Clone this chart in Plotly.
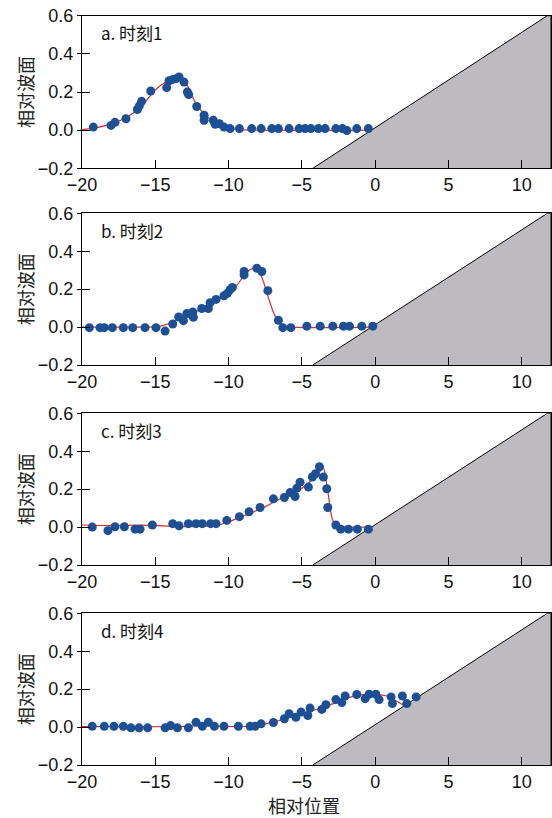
import plotly.graph_objects as go

# ---------------- data ----------------
panel_labels = ["a. 时刻1", "b. 时刻2", "c. 时刻3", "d. 时刻4"]
x_ticks = [-20, -15, -10, -5, 0, 5, 10]
y_ticks = [-0.2, 0.0, 0.2, 0.4, 0.6]
y_title = "相对波面"
x_title = "相对位置"

# beach slope (bed profile)
beach_x = [-4.25, 11.75, 12.0, 12.0]
beach_y = [-0.2, 0.6, 0.6, -0.2]

# panel 1 measured
x1 = [-19.23, -18.02, -17.75, -17.0, -16.22, -16.09, -15.93, -15.31, -14.22, -14.06,
      -13.81, -13.58, -13.38, -13.04, -12.81, -12.72, -12.17, -11.67, -11.67, -11.04,
      -10.92, -10.63, -10.31, -9.90, -9.26, -8.42, -7.78, -7.05, -6.60, -5.87,
      -5.19, -4.78, -4.39, -3.87, -3.41, -2.68, -2.23, -1.93, -1.25, -0.46]
y1 = [0.016, 0.025, 0.041, 0.060, 0.108, 0.127, 0.151, 0.205, 0.223, 0.259,
      0.266, 0.270, 0.279, 0.252, 0.200, 0.186, 0.124, 0.078, 0.052, 0.052,
      0.031, 0.034, 0.016, 0.008, 0.008, 0.008, 0.008, 0.008, 0.008, 0.008,
      0.008, 0.008, 0.008, 0.008, 0.008, 0.008, 0.008, -0.002, 0.008, 0.008]
# panel 1 model
x1c = [-20, -19, -18, -17, -16.5, -16, -15.5, -15, -14.5, -14, -13.7, -13.4, -13.1,
       -12.85, -12.6, -12.3, -12.0, -11.7, -11.4, -11.0, -10.6, -10.2, -9.7, -9.0, -0.3]
y1c = [0.003, 0.013, 0.033, 0.065, 0.09, 0.12, 0.165, 0.21, 0.242, 0.265, 0.278, 0.285,
       0.272, 0.24, 0.2, 0.15, 0.115, 0.088, 0.066, 0.045, 0.028, 0.015, 0.006, 0.001, 0.0]

# panel 2 measured
x2 = [-19.5, -18.77, -18.48, -17.93, -17.18, -16.54, -15.70, -14.95, -14.33, -13.81,
      -13.40, -13.08, -12.85, -12.44, -12.40, -11.83, -11.38, -11.26, -10.85, -10.31,
      -10.08, -9.90, -9.74, -8.94, -8.94, -8.07, -7.73, -7.32, -6.60, -6.30,
      -5.75, -4.66, -3.75, -2.89, -2.16, -1.75, -0.91, -0.16]
y2 = [-0.003, -0.003, -0.003, -0.003, -0.003, -0.003, -0.003, -0.003, -0.021, 0.016,
      0.053, 0.034, 0.071, 0.080, 0.052, 0.098, 0.098, 0.128, 0.146, 0.165,
      0.178, 0.197, 0.209, 0.293, 0.275, 0.310, 0.293, 0.192, 0.036, -0.003,
      -0.003, 0.005, 0.005, 0.005, 0.005, 0.005, 0.005, 0.005]
x2c = [-20, -18, -16, -15, -14.5, -14, -13.5, -13, -12.5, -12, -11.5, -11, -10.5, -10,
       -9.5, -9, -8.6, -8.3, -8.0, -7.8, -7.6, -7.4, -7.2, -7.0, -6.8, -6.6, -6.3, -6.0, 0]
y2c = [0.0, 0.0, 0.0, 0.002, 0.008, 0.02, 0.038, 0.055, 0.072, 0.09, 0.11, 0.13, 0.155,
       0.18, 0.215, 0.265, 0.3, 0.31, 0.3, 0.275, 0.235, 0.185, 0.135, 0.09, 0.055, 0.03,
       0.01, 0.002, 0.0]

# panel 3 measured
x3 = [-19.30, -18.23, -17.75, -17.11, -16.38, -16.04, -15.20, -13.81, -13.38, -12.74,
      -12.22, -11.79, -11.22, -10.85, -10.12, -9.26, -8.60, -7.85, -6.94, -6.19,
      -5.80, -5.46, -5.34, -5.12, -4.55, -4.28, -4.07, -3.80, -3.53, -3.30,
      -3.23, -2.68, -2.34, -1.82, -1.21, -0.46]
y3 = [0.0, -0.019, 0.002, 0.002, -0.011, -0.011, 0.011, 0.018, 0.007, 0.018,
      0.018, 0.018, 0.018, 0.018, 0.035, 0.055, 0.081, 0.103, 0.149, 0.156,
      0.182, 0.161, 0.205, 0.237, 0.211, 0.264, 0.281, 0.318, 0.264, 0.202,
      0.103, 0.011, -0.011, -0.011, -0.011, -0.011]
x3c = [-20, -18, -16, -14, -13, -12, -11, -10.5, -10, -9.5, -9, -8.5, -8, -7.5, -7,
       -6.5, -6, -5.5, -5, -4.5, -4.0, -3.7, -3.55, -3.3, -3.1, -2.95, -2.8, -2.6, -2.3, -0.4]
y3c = [0.011, 0.008, 0.01, 0.005, 0.002, 0.003, 0.008, 0.015, 0.028, 0.043, 0.058, 0.073,
       0.09, 0.108, 0.128, 0.148, 0.168, 0.186, 0.205, 0.235, 0.27, 0.3, 0.315, 0.225,
       0.12, 0.05, 0.02, 0.008, 0.002, 0.0]

# panel 4 measured
x4 = [-19.30, -18.48, -17.82, -17.18, -16.66, -16.11, -15.52, -14.33, -13.95, -13.49,
      -12.74, -12.22, -11.79, -11.38, -10.97, -10.31, -9.33, -8.53, -8.19, -7.78,
      -6.94, -6.19, -5.87, -5.41, -5.05, -4.59, -4.44, -3.64, -3.36, -2.68,
      -2.27, -2.05, -1.25, -0.68, -0.41, 0.05, 0.27, 1.09, 1.18, 1.86, 2.16, 2.80]
y4 = [0.004, 0.004, 0.004, 0.004, -0.004, -0.004, -0.004, -0.004, 0.008, -0.004,
      -0.004, 0.026, 0.004, 0.026, 0.004, 0.004, 0.004, 0.004, 0.004, 0.017,
      0.024, 0.044, 0.070, 0.052, 0.079, 0.061, 0.100, 0.093, 0.118, 0.145,
      0.129, 0.164, 0.172, 0.150, 0.173, 0.173, 0.145, 0.159, 0.124, 0.164, 0.124, 0.159]
x4c = [-20, -18, -16, -14, -13, -12, -11, -10, -9, -8.5, -8, -7.5, -7, -6.5, -6, -5.5,
       -5, -4.5, -4, -3.5, -3, -2.5, -2, -1.5, -1, -0.5, 0, 0.5, 1.0, 1.5, 2.0]
y4c = [0.003, 0.003, 0.002, 0.002, 0.004, 0.008, 0.006, 0.003, 0.003, 0.005, 0.01, 0.017,
       0.026, 0.036, 0.047, 0.058, 0.07, 0.082, 0.094, 0.107, 0.12, 0.135, 0.15, 0.162,
       0.17, 0.172, 0.17, 0.168, 0.16, 0.135, 0.112]

meas = [(x1, y1), (x2, y2), (x3, y3), (x4, y4)]
model = [(x1c, y1c), (x2c, y2c), (x3c, y3c), (x4c, y4c)]

# ---------------- figure ----------------
W, H = 552, 818
ML, MR, MT, MB = 82, 1, 15, 53
PH = H - MT - MB
panel_px = [(15.7, 168.3), (213.3, 365.0), (413.3, 565.0), (613.3, 765.0)]

FONT = "Liberation Sans, Arial, Noto Sans CJK SC, sans-serif"
CJK = "Noto Sans CJK SC, Liberation Sans, sans-serif"
BLUE = "#1d4f95"
RED = "#dc2a2e"
GRAY = "#bdbbc0"

fig = go.Figure()
layout = dict(
    width=W, height=H,
    margin=dict(l=ML, r=MR, t=MT, b=MB),
    paper_bgcolor="white", plot_bgcolor="white",
    showlegend=False,
    font=dict(family=FONT, size=17, color="#111111"),
)
annotations = []

for i in range(4):
    n = i + 1
    sfx = "" if n == 1 else str(n)
    ov = n + 4
    top, bot = panel_px[i]
    dom = [(H - MB - bot) / PH, (H - MB - top) / PH]

    layout["xaxis" + sfx] = dict(
        domain=[0, 1], range=[-20, 12], anchor="y" + sfx,
        tickmode="array", tickvals=x_ticks,
        ticks="inside", ticklen=8, tickwidth=1, tickcolor="black",
        showline=True, linecolor="black", linewidth=1, mirror=True,
        showgrid=False, zeroline=False,
        tickfont=dict(family=FONT, size=18, color="#111111"),
    )
    layout["yaxis" + sfx] = dict(
        domain=dom, range=[-0.2, 0.6], anchor="x" + sfx,
        tickmode="array", tickvals=y_ticks, tickformat=".1f",
        ticks="outside", ticklen=4, tickwidth=1, tickcolor="black",
        showline=True, linecolor="black", linewidth=1, mirror=True,
        showgrid=False, zeroline=False,
        tickfont=dict(family=FONT, size=18, color="#111111"),
    )
    layout["yaxis" + str(ov)] = dict(
        overlaying="y" + sfx, anchor="x" + sfx, side="left",
        range=[-0.2, 0.6], tickmode="array", tickvals=y_ticks,
        ticks="inside", ticklen=8, tickwidth=1, tickcolor="black",
        showticklabels=False, showline=False, showgrid=False, zeroline=False,
    )

    # beach
    fig.add_trace(go.Scatter(
        x=beach_x, y=beach_y, mode="lines", fill="toself",
        fillcolor=GRAY, line=dict(color="black", width=1),
        xaxis="x" + sfx, yaxis="y" + sfx, hoverinfo="skip",
    ))
    # model curve
    fig.add_trace(go.Scatter(
        x=model[i][0], y=model[i][1], mode="lines", line_shape="spline",
        line=dict(color=RED, width=1.2),
        xaxis="x" + sfx, yaxis="y" + sfx,
    ))
    # measurements
    fig.add_trace(go.Scatter(
        x=meas[i][0], y=meas[i][1], mode="markers",
        marker=dict(color=BLUE, size=9, line=dict(width=0)),
        xaxis="x" + sfx, yaxis="y" + str(ov),
    ))

    annotations.append(dict(
        text=panel_labels[i], xref="x" + sfx + " domain", yref="y" + sfx + " domain",
        x=0.036, y=1 - 17 / (bot - top), xanchor="left", yanchor="middle",
        showarrow=False, font=dict(family=CJK, size=17, color="#111111"),
    ))
    annotations.append(dict(
        text=y_title, xref="paper", yref="y" + sfx + " domain",
        x=(25 - ML) / (W - ML - MR), y=0.5, xanchor="center", yanchor="middle",
        textangle=-90, showarrow=False,
        font=dict(family=CJK, size=18, color="#222222"),
    ))

annotations.append(dict(
    text=x_title, xref="paper", yref="paper",
    x=(304 - ML) / (W - ML - MR), y=(H - MB - 805.0) / PH,
    xanchor="center", yanchor="middle", showarrow=False,
    font=dict(family=CJK, size=18, color="#222222"),
))
layout["annotations"] = annotations
fig.update_layout(**layout)
fig.write_html(
    "out.html",
    config={"displayModeBar": False},
    post_script="document.body.style.margin='0px';document.body.style.overflow='hidden';",
)
